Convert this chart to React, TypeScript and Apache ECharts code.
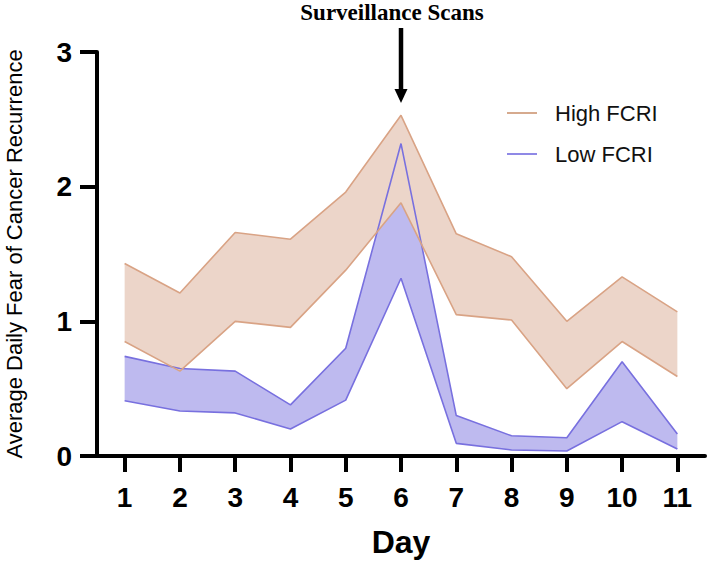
import React, { useEffect, useRef } from 'react';
import * as echarts from 'echarts';

const days = ['1', '2', '3', '4', '5', '6', '7', '8', '9', '10', '11'];
const highUpper = [1.43, 1.21, 1.66, 1.61, 1.96, 2.53, 1.65, 1.48, 1.0, 1.33, 1.07];
const highLower = [0.85, 0.63, 1.0, 0.955, 1.38, 1.88, 1.05, 1.01, 0.5, 0.85, 0.59];
const lowUpper = [0.74, 0.65, 0.63, 0.38, 0.8, 2.32, 0.3, 0.15, 0.136, 0.7, 0.163];
const lowLower = [0.41, 0.334, 0.32, 0.2, 0.415, 1.32, 0.094, 0.045, 0.037, 0.255, 0.052];
const yTicks = [0, 1, 2, 3];
const scanDay = '6';
const annotation = 'Surveillance Scans';
const highName = 'High FCRI';
const lowName = 'Low FCRI';

const SANS = "'Liberation Sans', Arial, sans-serif";
const SERIF = "'Liberation Serif', 'Times New Roman', serif";

const HIGH_LINE = '#D9A385';
const HIGH_FILL = '#ECD5C9';
const LOW_LINE = '#7870DF';
const LOW_FILL = '#BEBAEF';

export default function App() {
  const ref = useRef<HTMLDivElement>(null);
  useEffect(() => {
    document.body.style.margin = '0';
    const chart = echarts.init(ref.current!, null, { renderer: 'svg' });
    const highDiff = highUpper.map((v, i) => v - highLower[i]);
    const lowDiff = lowUpper.map((v, i) => v - lowLower[i]);
    const base = {
      type: 'line' as const,
      symbol: 'none',
      silent: true,
      animation: false,
    };
    const hidden = { lineStyle: { width: 0, opacity: 0 } };
    chart.setOption({
      animation: false,
      grid: { left: 97, right: 4, top: 52, bottom: 110, containLabel: false, outerBoundsMode: 'none' },
      legend: {
        orient: 'vertical',
        left: 507,
        top: 102,
        padding: 0,
        itemGap: 19,
        itemWidth: 30,
        itemHeight: 2,
        icon: 'rect',
        selectedMode: false,
        textStyle: { fontFamily: SANS, fontSize: 22, color: '#111', padding: [0, 0, 0, 13] },
        data: [
          { name: highName, itemStyle: { color: '#D6AA8E' } },
          { name: lowName, itemStyle: { color: '#8F89E6' } },
        ],
      },
      xAxis: {
        type: 'category',
        data: days,
        boundaryGap: true,
        name: 'Day',
        nameLocation: 'middle',
        nameGap: 70,
        nameTextStyle: { fontFamily: SANS, fontSize: 32, fontWeight: 'bold', color: '#000' },
        axisLine: { show: true, lineStyle: { color: '#000', width: 4 } },
        axisTick: { show: true, alignWithLabel: true, length: 16, lineStyle: { color: '#000', width: 4 } },
        axisLabel: { margin: 27, fontFamily: SANS, fontSize: 28, fontWeight: 'bold', color: '#000' },
        splitLine: { show: false },
      },
      yAxis: {
        type: 'value',
        min: yTicks[0],
        max: yTicks[yTicks.length - 1],
        interval: 1,
        name: 'Average Daily Fear of Cancer Recurrence',
        nameLocation: 'middle',
        nameGap: 72,
        nameTextStyle: { fontFamily: SANS, fontSize: 22, color: '#000' },
        axisLine: { show: true, lineStyle: { color: '#000', width: 4 } },
        axisTick: { show: true, length: 17, lineStyle: { color: '#000', width: 4 } },
        axisLabel: { margin: 25, fontFamily: SANS, fontSize: 28, fontWeight: 'bold', color: '#000' },
        splitLine: { show: false },
      },
      series: [
        { ...base, ...hidden, name: lowName, stack: 'lowBand', data: lowLower },
        { ...base, ...hidden, name: lowName, stack: 'lowBand', data: lowDiff, areaStyle: { color: LOW_FILL, opacity: 1 } },
        { ...base, ...hidden, name: highName, stack: 'highBand', data: highLower },
        { ...base, ...hidden, name: highName, stack: 'highBand', data: highDiff, areaStyle: { color: HIGH_FILL, opacity: 1 } },
        { ...base, name: lowName, data: lowUpper, lineStyle: { color: LOW_LINE, width: 1.6 }, itemStyle: { color: LOW_LINE } },
        { ...base, name: lowName, data: lowLower, lineStyle: { color: LOW_LINE, width: 1.6 }, itemStyle: { color: LOW_LINE } },
        { ...base, name: highName, data: highUpper, lineStyle: { color: HIGH_LINE, width: 1.6 }, itemStyle: { color: HIGH_LINE } },
        { ...base, name: highName, data: highLower, lineStyle: { color: HIGH_LINE, width: 1.6 }, itemStyle: { color: HIGH_LINE } },
      ],
    });
    const p = chart.convertToPixel({ gridIndex: 0 }, [days.indexOf(scanDay), yTicks[yTicks.length - 1]]) as number[];
    const ax = p[0];
    const ay = p[1];
    chart.setOption({
      graphic: [
        {
          type: 'text',
          x: ax - 9,
          y: 12.5,
          style: {
            text: annotation,
            fontFamily: SERIF,
            fontSize: 23,
            fontWeight: 'bold',
            fill: '#000',
            align: 'center',
            verticalAlign: 'middle',
          },
        },
        {
          type: 'line',
          shape: { x1: ax, y1: ay - 24, x2: ax, y2: ay + 40 },
          style: { stroke: '#000', lineWidth: 4.5 },
        },
        {
          type: 'polygon',
          shape: { points: [[ax - 6.5, ay + 37], [ax + 6.5, ay + 37], [ax, ay + 51]] },
          style: { fill: '#000' },
        },
      ],
    });
    return () => chart.dispose();
  }, []);
  return <div ref={ref} style={{ width: 709, height: 566 }} />;
}
